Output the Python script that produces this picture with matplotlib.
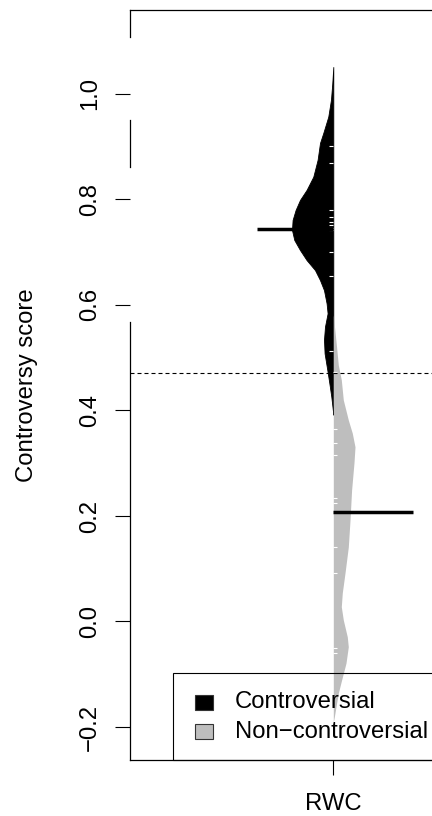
import matplotlib.pyplot as plt
from matplotlib.patches import Rectangle

plt.rcParams['font.family'] = ['Liberation Sans', 'DejaVu Sans']

group = "RWC"
labels = ["Controversial", "Non\u2212controversial"]
colors = ["black", "#BEBEBE"]

# outline of the left (controversial) half of the bean: score, half width
contr_score = [1.051, 1.020, 0.989, 0.957, 0.926, 0.907, 0.875, 0.843, 0.818,
               0.799, 0.780, 0.761, 0.742, 0.723, 0.704, 0.685, 0.666, 0.647,
               0.628, 0.603, 0.584, 0.559, 0.534, 0.508, 0.477, 0.452, 0.426,
               0.401, 0.392]
contr_width = [0.0, 0.0025, 0.0057, 0.0123, 0.0246, 0.0327, 0.0386, 0.0492, 0.0657,
               0.0819, 0.0927, 0.1001, 0.1016, 0.0959, 0.0819, 0.0657, 0.0450, 0.0327,
               0.0229, 0.0165, 0.0140, 0.0204, 0.0229, 0.0214, 0.0148, 0.0098, 0.0049,
               0.0012, 0.0]

# outline of the right (non-controversial) half
non_score = [0.581, 0.553, 0.520, 0.486, 0.458, 0.420, 0.382, 0.357, 0.331, 0.301,
             0.249, 0.192, 0.141, 0.092, 0.054, 0.028, 0.003, -0.029, -0.048, -0.079,
             -0.111, -0.136, -0.158, -0.181, -0.191]
non_width = [0.0, 0.0037, 0.0081, 0.0123, 0.0197, 0.0246, 0.0369, 0.0467, 0.0534, 0.0509,
             0.0450, 0.0411, 0.0369, 0.0288, 0.0221, 0.0197, 0.0246, 0.0344, 0.0369, 0.0312,
             0.0204, 0.0123, 0.0074, 0.0025, 0.0]

# individual scores (bean lines)
contr_points = [0.901, 0.869, 0.780, 0.767, 0.757, 0.752, 0.746, 0.742, 0.700, 0.655, 0.513]
non_points = [0.473, 0.365, 0.338, 0.316, 0.234, 0.225, 0.141, 0.092, -0.050, -0.060]

contr_mean = 0.744
non_mean = 0.208
threshold = 0.471

yticks = [-0.2, 0.0, 0.2, 0.4, 0.6, 0.8, 1.0]

fig = plt.figure(figsize=(4.32, 8.16), dpi=100)
ax = fig.add_axes([130 / 432, 56 / 816, 406.6 / 432, 750 / 816])

ax.fill_betweenx(contr_score, [1 - w for w in contr_width], 1, color=colors[0], lw=0.6)
ax.fill_betweenx(non_score, 1, [1 + w for w in non_width], color=colors[1], lw=0)

ax.hlines(contr_points, 0.99, 1.0, color='white', lw=0.8)
ax.hlines(non_points, 1.0, 1.01, color='white', lw=0.8)

ax.hlines(contr_mean, 1 - 0.187, 1, color='black', lw=2.5)
ax.hlines(non_mean, 1, 1 + 0.197, color='black', lw=2.5)

ax.axhline(threshold, color='black', lw=0.8, dashes=(3.6, 2.7))

ax.set_xlim(0.5, 1.5)
ax.set_ylim(-0.2626, 1.159)

ax.set_yticks(yticks, labels=[f"{v:.1f}".replace('-', '\u2212') for v in yticks],
              rotation=90, va='center')
ax.set_xticks([1], labels=[group])
ax.tick_params(axis='y', length=10.8, width=0.8, pad=10, labelsize=17.2)
ax.tick_params(axis='x', length=10.8, width=0.8, pad=12.7, labelsize=17.2)

ax.spines['right'].set_visible(False)
ax.spines['left'].set_visible(False)
for y0, y1 in [(0.964, 1.0), (0.7907, 0.8533), (0.0, 0.584)]:
    ax.plot([0, 0], [y0, y1], transform=ax.transAxes, clip_on=False, color='black', lw=0.9)
for s in ['top', 'bottom']:
    ax.spines[s].set_linewidth(0.9)

ax.set_ylabel("Controversy score", fontsize=17.2)
ax.yaxis.set_label_coords(-0.2533, 0.5)
ax.yaxis.label.set_verticalalignment('center')

# legend, drawn by hand like R's bottomright legend
ax.add_patch(Rectangle((0.1058, 0), 1.2, 0.116, transform=ax.transAxes, fill=False,
                       ec='black', lw=0.8, clip_on=False))
for i, (lab, col) in enumerate(zip(labels, colors)):
    yb = 0.0667 - i * 0.0387
    ax.add_patch(Rectangle((0.1599, yb), 0.0443, 0.02, transform=ax.transAxes,
                           fc=col, ec='#333333', lw=0.8, clip_on=False))
    ax.text(0.2582, yb + 0.01, lab, transform=ax.transAxes, fontsize=17.2,
            va='center', ha='left', clip_on=False)

fig.savefig("out.png", dpi=100)
